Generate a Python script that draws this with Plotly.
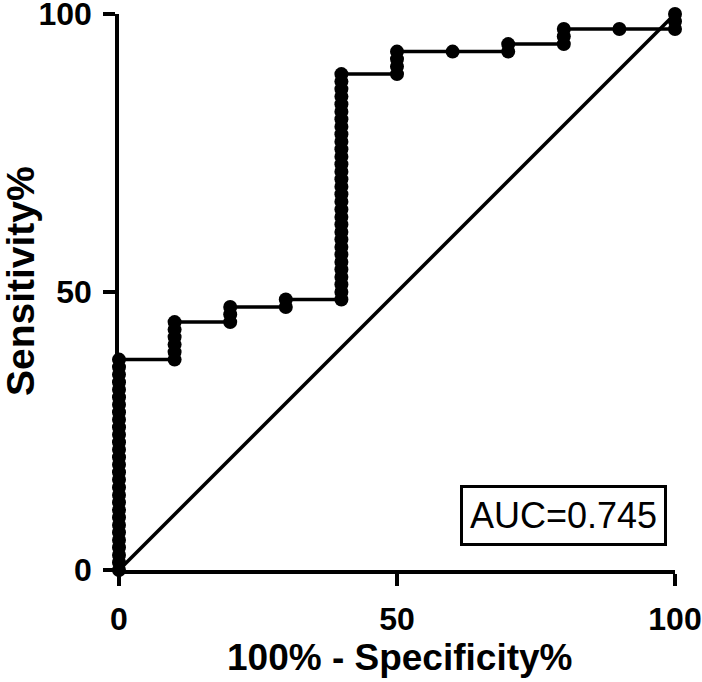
import plotly.graph_objects as go

# ROC points: 100% - Specificity% (x) and Sensitivity% (y)
one_minus_spec = (
    [0] * 29 + [10] * 6 + [20] * 3 + [30] * 2 + [40] * 31 + [50] * 4 + [60] + [70] * 2 + [80] * 3 + [90] + [100] * 3
)
sensitivity = [
    # x = 0
    0, 1.35, 2.70, 4.05, 5.41, 6.76, 8.11, 9.46, 10.81, 12.16, 13.51, 14.86, 16.22, 17.57, 18.92,
    20.27, 21.62, 22.97, 24.32, 25.68, 27.03, 28.38, 29.73, 31.08, 32.43, 33.78, 35.14, 36.49, 37.84,
    # x = 10
    37.84, 39.19, 40.54, 41.89, 43.24, 44.59,
    # x = 20
    44.59, 45.95, 47.30,
    # x = 30
    47.30, 48.65,
    # x = 40
    48.65, 50.00, 51.35, 52.70, 54.05, 55.41, 56.76, 58.11, 59.46, 60.81, 62.16, 63.51, 64.86, 66.22,
    67.57, 68.92, 70.27, 71.62, 72.97, 74.32, 75.68, 77.03, 78.38, 79.73, 81.08, 82.43, 83.78, 85.14,
    86.49, 87.84, 89.19,
    # x = 50
    89.19, 90.54, 91.89, 93.24,
    # x = 60
    93.24,
    # x = 70
    93.24, 94.59,
    # x = 80
    94.59, 95.95, 97.30,
    # x = 90
    97.30,
    # x = 100
    97.30, 98.65, 100.0,
]
diag_x = [0, 100]
diag_y = [0, 100]
tick_vals = [0, 50, 100]
tick_text = ["0", "50", "100"]
auc_text = "AUC=0.745"
x_title = "100% - Specificity%"
y_title = "Sensitivity%"

FONT = "Liberation Sans, Arial, sans-serif"

fig = go.Figure()
fig.add_trace(go.Scatter(
    x=diag_x, y=diag_y, mode="lines",
    line=dict(color="black", width=3.5), cliponaxis=False, showlegend=False,
    hoverinfo="skip",
))
fig.add_trace(go.Scatter(
    x=one_minus_spec, y=sensitivity, mode="lines+markers",
    line=dict(color="black", width=3.5),
    marker=dict(color="black", size=14),
    cliponaxis=False, showlegend=False,
))

tick_font = dict(family=FONT, size=32, color="black", weight="bold")
axis_common = dict(
    range=[0, 100], showgrid=False, zeroline=False, showline=True,
    linecolor="black", linewidth=3.5, ticks="outside", ticklen=12, tickwidth=3.5,
    tickcolor="black", tickvals=tick_vals, ticktext=tick_text, tickfont=tick_font,
    fixedrange=True, automargin=False, ticklabeloverflow="allow",
)
fig.update_layout(
    width=702, height=682,
    margin=dict(l=119, r=27, t=14, b=112, autoexpand=False),
    paper_bgcolor="white", plot_bgcolor="white",
    xaxis=dict(**axis_common, ticklabelstandoff=6),
    yaxis=dict(**axis_common, ticklabelstandoff=5),
    annotations=[
        dict(text=x_title, xref="paper", yref="paper", x=0.5036, y=-0.158,
             xanchor="center", yanchor="middle", showarrow=False,
             font=dict(family=FONT, size=37, color="black", weight="bold")),
        dict(text=y_title, xref="paper", yref="paper", x=-0.177, y=0.519,
             xanchor="center", yanchor="middle", showarrow=False, textangle=-90,
             font=dict(family=FONT, size=39, color="black", weight="bold")),
        dict(text=auc_text, xref="paper", yref="paper", x=0.7986, y=0.098,
             xanchor="center", yanchor="middle", showarrow=False,
             bordercolor="black", borderwidth=3, borderpad=7, bgcolor="white",
             font=dict(family=FONT, size=36, color="black")),
    ],
)
# remove the default page margin so the figure sits at the window's top-left corner
fig.write_html("out.html", config={"displayModeBar": False},
               post_script="document.body.style.margin='0';")
